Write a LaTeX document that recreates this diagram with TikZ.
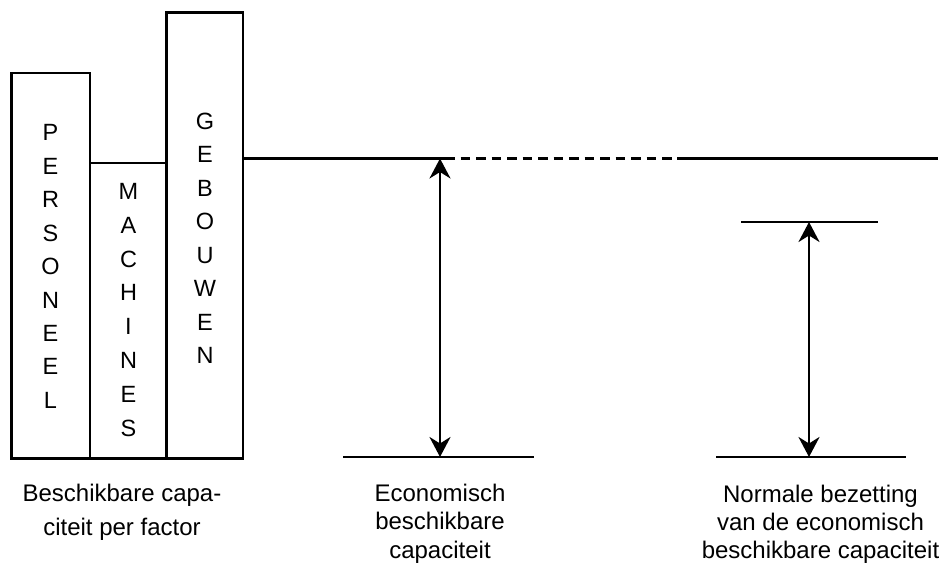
\documentclass[tikz,border=0pt]{standalone}
\usepackage{fontspec}
\setmainfont{Liberation Sans}
\usetikzlibrary{arrows.meta}
\begin{document}
\begin{tikzpicture}[x=1pt,y=-1pt,
  bar/.style={draw, line width=2.7pt},
  lvl/.style={line width=2.8pt},
  dim/.style={line width=2.8pt, {Stealth[length=20pt,width=21pt,inset=6.5pt]}-{Stealth[length=20pt,width=21pt,inset=6.5pt]}},
  letter/.style={font=\fontsize{23.5}{28}\selectfont, anchor=base, inner sep=0pt},
  lab/.style={anchor=base, inner sep=0pt, align=center}]
\useasboundingbox (0,0) rectangle (947,564);
% bars
\draw[bar] (11.5,73) rectangle (90,458.5);
\draw[bar] (90,163) rectangle (166.5,458.5);
\draw[bar] (166.5,12.5) rectangle (243,458.5);
% letters
\foreach \l [count=\i from 0] in {P,E,R,S,O,N,E,E,L}
  \node[letter] (pers\i) at (50.5,{141+33.4*\i}) {\l};
\foreach \l [count=\i from 0] in {M,A,C,H,I,N,E,S}
  \node[letter] (mach\i) at (128.5,{199.4+33.8*\i}) {\l};
\foreach \l [count=\i from 0] in {G,E,B,O,U,W,E,N}
  \node[letter] (gebo\i) at (205,{129.4+33.5*\i}) {\l};
% levels
\coordinate (topL) at (243,158.5);
\coordinate (dashS) at (445,158.5);
\coordinate (dashE) at (672,158.5);
\coordinate (topR0) at (677,158.5);
\coordinate (topR) at (938,158.5);
\coordinate (a1t) at (440,158.5);
\coordinate (a1b) at (440,457);
\coordinate (b1L) at (343,457);
\coordinate (b1R) at (534,457);
\coordinate (s2L) at (741,222);
\coordinate (s2R) at (878,222);
\coordinate (a2t) at (809,222);
\coordinate (a2b) at (809,457);
\coordinate (b2L) at (716,457);
\coordinate (b2R) at (906,457);
\draw[lvl] (topL) -- (dashS);
\draw[lvl, dash pattern=on 9.5pt off 6pt] (dashS) -- (dashE);
\draw[lvl] (topR0) -- (topR);
\draw[lvl] (b1L) -- (b1R);
\draw[lvl] (s2L) -- (s2R);
\draw[lvl] (b2L) -- (b2R);
\draw[dim] (a1t) -- (a1b);
\draw[dim] (a2t) -- (a2b);
% labels (base anchor = baseline of last line)
\node[lab, font=\fontsize{24}{34}\selectfont] (l1) at (122,535) {Beschikbare capa-\\citeit per factor};
\node[lab, font=\fontsize{24}{28.5}\selectfont] (l2) at (440,558) {Economisch\\beschikbare\\capaciteit};
\node[lab, font=\fontsize{24}{28}\selectfont] (l3) at (820.5,558) {Normale bezetting\\van de economisch\\beschikbare capaciteit};
\end{tikzpicture}
\end{document}
